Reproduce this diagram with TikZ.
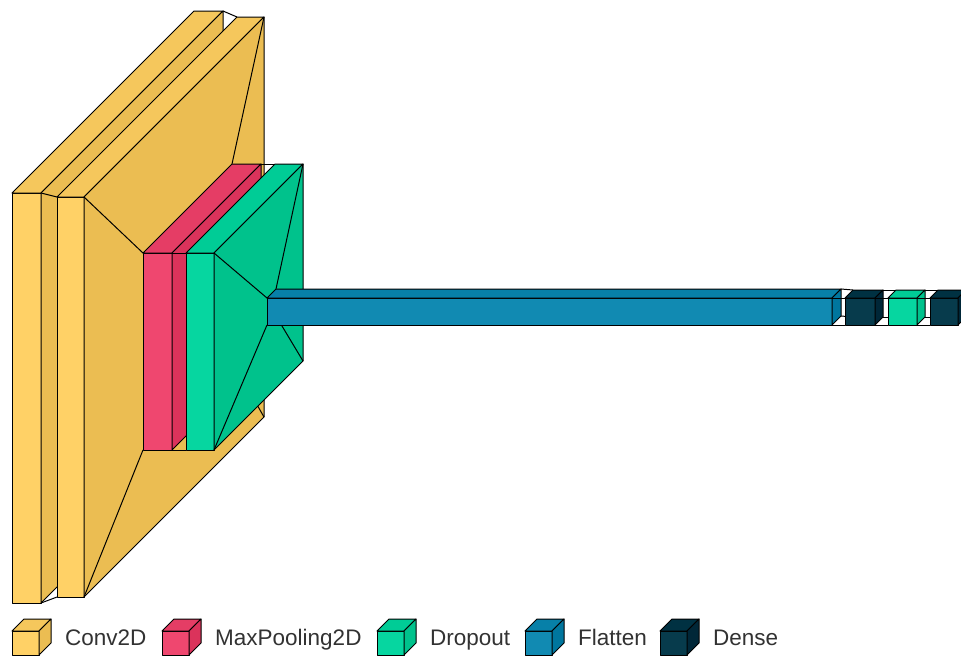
\documentclass[tikz,border=0pt]{standalone}
\usepackage{fontspec}
\setmainfont{Liberation Sans}
\definecolor{convF}{RGB}{255,209,102}
\definecolor{convT}{RGB}{245,199,92}
\definecolor{convS}{RGB}{235,189,82}
\definecolor{poolF}{RGB}{239,71,111}
\definecolor{poolT}{RGB}{229,61,101}
\definecolor{poolS}{RGB}{219,51,91}
\definecolor{dropF}{RGB}{6,214,160}
\definecolor{dropT}{RGB}{0,204,150}
\definecolor{dropS}{RGB}{0,194,140}
\definecolor{flatF}{RGB}{17,138,178}
\definecolor{flatT}{RGB}{7,128,168}
\definecolor{flatS}{RGB}{0,118,158}
\definecolor{denseF}{RGB}{7,59,76}
\definecolor{denseT}{RGB}{0,49,66}
\definecolor{denseS}{RGB}{0,39,56}
\definecolor{legtext}{RGB}{50,50,50}
% box: x1 y1 x2 y2 de colour-prefix
\newcommand\kbox[6]{%
  \filldraw[edge, fill=#6F] (#1,#2) rectangle (#3,#4);
  \filldraw[edge, fill=#6T] (#1,#2) -- (#1+#5,#2-#5) -- (#3+#5,#2-#5) -- (#3,#2) -- cycle;
  \filldraw[edge, fill=#6S] (#3,#2) -- (#3+#5,#2-#5) -- (#3+#5,#4-#5) -- (#3,#4) -- cycle;
}
% funnel: prev x2 y1 y2 de ; next x1 y1 y2 de
\newcommand\kfun[8]{%
  \draw[edge] (#1+#4,#2-#4) -- (#5+#8,#6-#8);
  \draw[edge] (#1+#4,#3-#4) -- (#5+#8,#7-#8);
  \draw[edge] (#1,#3) -- (#5,#7);
  \draw[edge] (#1,#2) -- (#5,#6);
}
% legend cube: x, colour prefix, label
\newcommand\kleg[3]{%
  \kbox{#1}{631}{#1+27}{655}{12}{#2}
  \node[legend] at (#1+53,645) {#3};
}
\begin{document}
\begin{tikzpicture}[x=1pt,y=-1pt,
  edge/.style={draw=black, line width=1pt, line join=round},
  legend/.style={anchor=base west, inner sep=0pt, text=legtext, font=\fontsize{22.5}{26}\selectfont}]
\useasboundingbox (0,0) rectangle (961,656);
\begin{scope}
\clip (0,0) rectangle (961,656);
% Conv2D 1
\kbox{12}{193}{41}{603}{182}{conv}
% Conv2D 2
\kfun{41}{193}{603}{182}{57}{197}{597}{180}
\kbox{57}{197}{84}{597}{180}{conv}
% MaxPooling2D
\kfun{84}{197}{597}{180}{143}{253}{450}{89}
\kbox{143}{253}{172}{450}{89}{pool}
% Dropout
\kfun{172}{253}{450}{89}{186}{253}{450}{89}
\kbox{186}{253}{214}{450}{89}{drop}
% Flatten
\kfun{214}{253}{450}{89}{267}{298}{325}{9}
\kbox{267}{298}{832}{325}{9}{flat}
% Dense
\kfun{832}{298}{325}{9}{845}{298}{325}{8}
\kbox{845}{298}{875}{325}{8}{dense}
% Dropout
\kfun{875}{298}{325}{8}{888}{298}{325}{8}
\kbox{888}{298}{917}{325}{8}{drop}
% Dense
\kfun{917}{298}{325}{8}{930}{298}{325}{8}
\kbox{930}{298}{958}{325}{8}{dense}
% legend
\kleg{12}{conv}{Conv2D}
\kleg{162}{pool}{MaxPooling2D}
\kleg{377}{drop}{Dropout}
\kleg{525}{flat}{Flatten}
\kleg{660}{dense}{Dense}
\end{scope}
\end{tikzpicture}
\end{document}
